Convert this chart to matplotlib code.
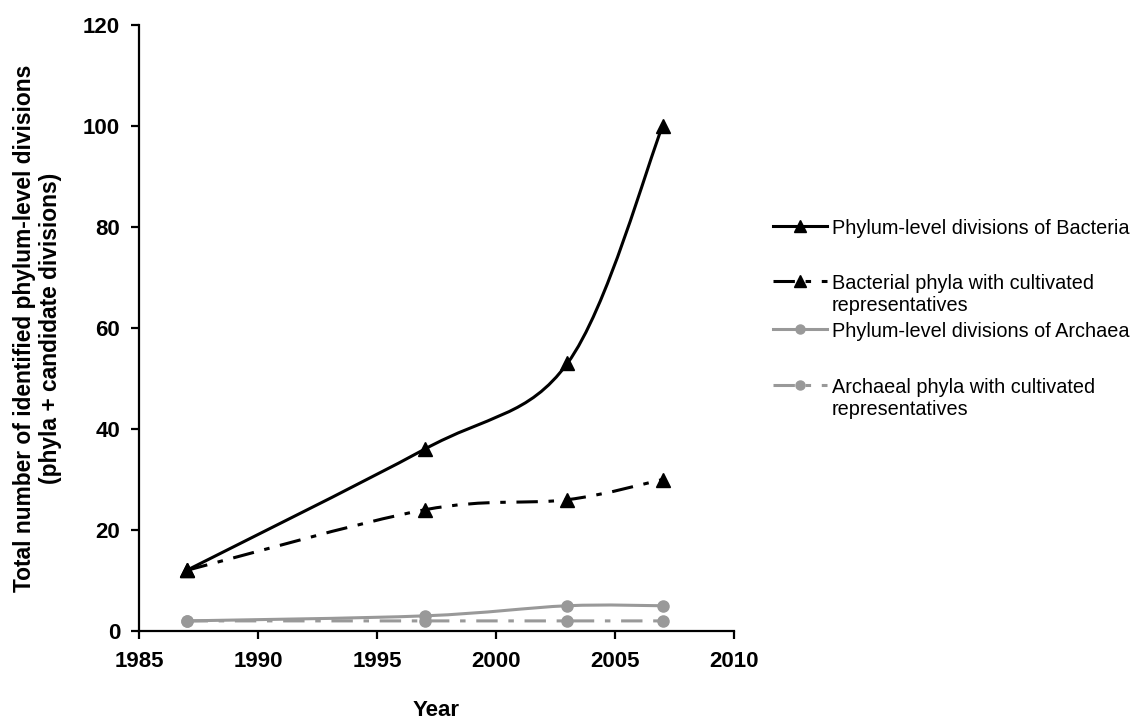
import matplotlib
matplotlib.use('Agg')
import matplotlib.pyplot as plt
from matplotlib.path import Path
from matplotlib.patches import PathPatch
from matplotlib.lines import Line2D

plt.rcParams['font.family'] = ['Liberation Sans', 'DejaVu Sans']

YEARS = [1987, 1997, 2003, 2007]
BACT_ALL = [12, 36, 53, 100]
BACT_CULT = [12, 24, 26, 30]
ARCH_ALL = [2, 3, 5, 5]
ARCH_CULT = [2, 2, 2, 2]

LABELS = ['Phylum-level divisions of Bacteria',
          'Bacterial phyla with cultivated\nrepresentatives',
          'Phylum-level divisions of Archaea',
          'Archaeal phyla with cultivated\nrepresentatives']

BLACK = '#000000'
GREY = '#999999'
DASH = (0, (7, 3.5, 1.8, 3.5))
W, H = 1132, 720


def smooth_path(xs, ys):
    # Bezier smoothing, like a spreadsheet "smoothed line"
    pts = list(zip(xs, ys))
    n = len(pts)
    verts = [pts[0]]
    codes = [Path.MOVETO]
    for i in range(n - 1):
        p0 = pts[i - 1] if i > 0 else pts[i]
        p1 = pts[i]
        p2 = pts[i + 1]
        p3 = pts[i + 2] if i + 2 < n else pts[i + 1]
        c1 = (p1[0] + (p2[0] - p0[0]) / 6, p1[1] + (p2[1] - p0[1]) / 6)
        c2 = (p2[0] - (p3[0] - p1[0]) / 6, p2[1] - (p3[1] - p1[1]) / 6)
        verts += [c1, c2, p2]
        codes += [Path.CURVE4] * 3
    return Path(verts, codes)


fig = plt.figure(figsize=(W / 100, H / 100), dpi=100)
ax = fig.add_axes([139 / W, 1 - 631 / H, 595 / W, 606 / H])

series = [
    (BACT_ALL, BLACK, '-', '^', 9.5),
    (BACT_CULT, BLACK, DASH, '^', 9.5),
    (ARCH_ALL, GREY, '-', 'o', 8),
    (ARCH_CULT, GREY, DASH, 'o', 8),
]

for vals, col, ls, mk, ms in series:
    ax.add_patch(PathPatch(smooth_path(YEARS, vals), facecolor='none',
                           edgecolor=col, linewidth=2.2, linestyle=ls,
                           capstyle='butt'))
    ax.plot(YEARS, vals, linestyle='none', marker=mk, markersize=ms,
            color=col, markeredgecolor=col, clip_on=False)

ax.set_xlim(1985, 2010)
ax.set_ylim(0, 120)
ax.set_xticks(range(1985, 2011, 5))
ax.set_yticks(range(0, 121, 20))
for s in ['top', 'right']:
    ax.spines[s].set_visible(False)
for s in ['left', 'bottom']:
    ax.spines[s].set_linewidth(1.6)
ax.tick_params(direction='out', length=5.5, width=1.6, labelsize=16)
ax.tick_params(axis='x', pad=9)
ax.tick_params(axis='y', pad=8)
for t in ax.get_xticklabels() + ax.get_yticklabels():
    t.set_fontweight('bold')
ax.set_xlabel('Year', fontsize=16, fontweight='bold', labelpad=20)
ax.set_ylabel('Total number of identified phylum-level divisions\n(phyla + candidate divisions)',
              fontsize=16.4, fontweight='bold', labelpad=15)

# legend drawn by hand: handle aligned with the first text line
entry_y = [226, 281, 329, 385]
for (vals, col, ls, mk, ms), lab, yp in zip(series, LABELS, entry_y):
    yf = 1 - yp / H
    fig.add_artist(Line2D([773 / W, 827 / W], [yf, yf], transform=fig.transFigure,
                          color=col, linewidth=2.2, linestyle=ls))
    fig.add_artist(Line2D([800 / W], [yf], transform=fig.transFigure,
                          color=col, marker=mk, markersize=ms - 1.5, linestyle='none'))
    fig.text(832 / W, yf + 7 / H, lab, fontsize=14.3, va='top', ha='left',
             linespacing=1.2)

fig.savefig('out.png', dpi=100)
